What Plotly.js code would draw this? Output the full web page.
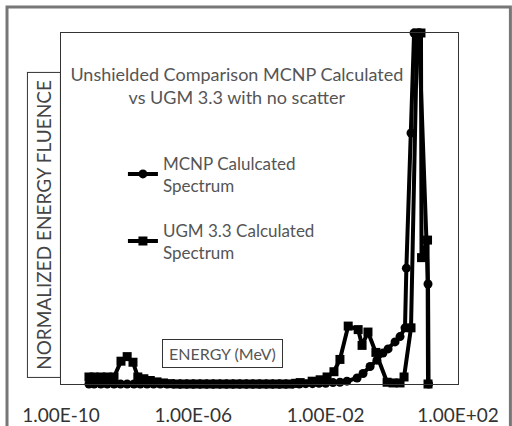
<!DOCTYPE html>
<html><head><meta charset="utf-8">
<script src="https://cdn.plot.ly/plotly-3.0.1.min.js"></script>
<style>html,body{margin:0;padding:0;background:#fff}#chart{width:512px;height:426px}</style>
</head><body><div id="chart"></div>
<script>
// Energies (MeV) and normalized energy fluence
const mcnpEnergy = [7e-10,1e-9,1.6e-9,2.5e-9,4e-9,6.3e-9,1e-8,1.6e-8,2.5e-8,4e-8,6.3e-8,
  1e-7,1.6e-7,2.5e-7,4e-7,6.3e-7,1e-6,1.6e-6,2.5e-6,4e-6,6.3e-6,1e-5,1.6e-5,2.5e-5,4e-5,6.3e-5,
  1e-4,1.6e-4,2.5e-4,4e-4,6.3e-4,1e-3,1.6e-3,2.5e-3,4e-3,6.3e-3,1e-2,
  0.0166,0.027,0.044,0.089,0.135,0.22,0.355,0.54,0.77,1.25,1.77,2.5,2.75,3.8,4.7,6.6,12.4,12.9];
const mcnpFluence = [0,0,0,0,0,0,0,0,0,0,0,
  0,0,0,0,0,0,0,0,0,0,0,0,0,0,0,
  0,0,0,0,0,0,0,0.001,0.001,0.002,0.002,
  0.004,0.005,0.008,0.017,0.03,0.05,0.068,0.088,0.10,0.12,0.135,0.16,0.33,0.715,1.0,1.0,0.285,0];

const ugmEnergy = [7e-10,1e-9,1.6e-9,2.5e-9,4e-9,6.5e-9,1e-8,1.5e-8,2.1e-8,3.2e-8,5e-8,8e-8,
  1.25e-7,2e-7,3.2e-7,5e-7,8e-7,1.25e-6,2e-6,3.2e-6,5e-6,8e-6,1.25e-5,2e-5,3.2e-5,5e-5,8e-5,
  1.25e-4,2e-4,3.2e-4,5e-4,8e-4,1.25e-3,1.7e-3,3.9e-3,6.8e-3,0.011,0.0178,0.027,0.048,
  0.096,0.126,0.19,0.33,0.72,1.09,1.77,2.34,3.8,5.8,7.6,7.9,12.0,12.4];
const ugmFluence = [0.02,0.02,0.02,0.02,0.02,0.065,0.078,0.062,0.02,0.015,0.01,0.006,
  0.003,0.001,0,0,0,0,0,0,0,0,0,0,0,0,0,
  0,0,0,0,0,0.002,0.004,0.008,0.012,0.02,0.035,0.07,0.165,
  0.155,0.11,0.148,0.09,0.005,0.003,0.003,0.02,0.16,1.0,1.0,0.36,0.41,0];

const tickValues = [1e-10,1e-6,1e-2,1e2];
const tickLabels = ['1.00E-10','1.00E-06','1.00E-02','1.00E+02'];

const FONT = 'Lato, "Open Sans", sans-serif';

const traces = [
  {x: mcnpEnergy, y: mcnpFluence, name: 'MCNP Calulcated<br>Spectrum', legendgroup: 'a',
   mode: 'lines+markers', type: 'scatter', cliponaxis: false,
   line: {color: '#000', width: 4}, marker: {symbol: 'circle', size: 9, color: '#000'}},
  {x: ugmEnergy, y: ugmFluence, name: 'UGM 3.3 Calculated<br>Spectrum', legendgroup: 'b',
   mode: 'lines+markers', type: 'scatter', cliponaxis: false,
   line: {color: '#000', width: 4}, marker: {symbol: 'square', size: 9, color: '#000'}}
];

const layout = {
  width: 512, height: 426,
  margin: {l: 61, r: 54, t: 33, b: 42},
  paper_bgcolor: '#fff', plot_bgcolor: '#fff',
  font: {family: FONT, color: '#444'},
  title: {text: 'Unshielded Comparison MCNP Calculated<br>vs UGM 3.3 with no scatter',
    font: {family: FONT, size: 18, color: '#555'},
    xref: 'paper', yref: 'paper', x: 0.443, y: 0.864, xanchor: 'center', yanchor: 'middle'},
  xaxis: {type: 'log', range: [-10, 2], tickvals: tickValues, ticktext: tickLabels,
    showgrid: false, zeroline: false, showline: true, mirror: true, linecolor: '#333', linewidth: 1,
    ticks: '', ticklabelstandoff: 14, tickfont: {family: FONT, size: 19, color: '#333'}},
  yaxis: {range: [0, 1], showticklabels: false, ticks: '', showgrid: false, zeroline: false,
    showline: true, mirror: true, linecolor: '#333', linewidth: 1},
  showlegend: true,
  legend: {x: 0.156, y: 0.68, xanchor: 'left', yanchor: 'top', bgcolor: 'rgba(0,0,0,0)',
    font: {family: FONT, size: 17, color: '#555'}, tracegroupgap: 20, traceorder: 'grouped'},
  annotations: [
    {text: 'NORMALIZED ENERGY FLUENCE', xref: 'paper', yref: 'paper', x: -0.043, y: 0.453,
     xanchor: 'center', yanchor: 'middle', textangle: -90, showarrow: false,
     font: {family: FONT, size: 19, color: '#444'}, width: 304, height: 32,
     bordercolor: '#333', borderwidth: 1, borderpad: 0},
    {text: 'ENERGY (MeV)', xref: 'paper', yref: 'paper', x: 0.406, y: 0.088,
     xanchor: 'center', yanchor: 'middle', showarrow: false,
     font: {family: FONT, size: 16, color: '#555'}, width: 119, height: 27,
     bordercolor: '#333', borderwidth: 1, borderpad: 0, bgcolor: '#fff'}
  ],
  shapes: [
    {type: 'rect', xref: 'paper', yref: 'paper', x0: -0.136, x1: 1.132, y0: -0.2, y1: 1.074,
     line: {color: '#777', width: 3}}
  ]
};

Plotly.newPlot('chart', traces, layout, {displayModeBar: false, staticPlot: true});
</script></body></html>
